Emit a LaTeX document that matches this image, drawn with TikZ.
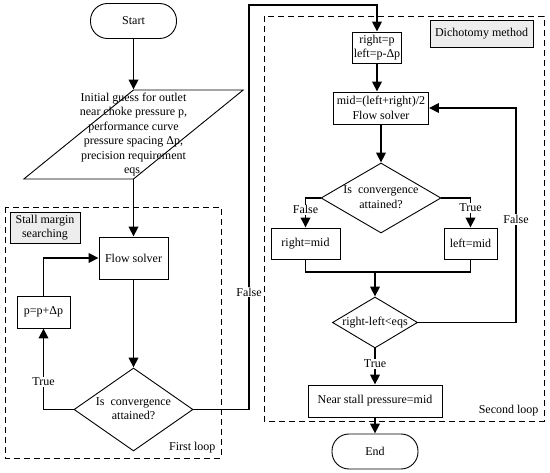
\documentclass[tikz,border=0pt]{standalone}
\usepackage{fontspec}
\setmainfont{Liberation Serif}
\usetikzlibrary{shapes.geometric,arrows.meta,positioning}
\newcommand{\dtext}[1]{\makebox[0pt]{\begin{tabular}{@{}c@{}}#1\end{tabular}}}

\begin{document}
\begin{tikzpicture}[
    x=1pt, y=-1pt,
    >={Triangle[length=10pt,width=9.5pt]},
    every node/.style={font=\fontsize{12}{14.5}\selectfont},
    process/.style={
      rectangle, draw, line width=0.9pt,
      inner sep=1pt, align=center
    },
    terminal/.style={
      process, rounded corners=17pt,
      minimum width=86, minimum height=35
    },
    inout/.style={
      trapezium, trapezium stretches=true,
      trapezium left angle=63.7, trapezium right angle=116.3,
      draw, line width=0.9pt, inner sep=0pt
    },
    decision/.style={diamond, draw, line width=0.9pt, inner sep=0pt},
    tagbox/.style={process, fill=black!7},
    loopframe/.style={draw, line width=0.8pt, dash pattern=on 6pt off 4pt},
    edgelabel/.style={fill=white, inner sep=1pt},
    conn/.style={line width=1.8pt},
  ]
  \useasboundingbox (0,0) rectangle (550,473);

  % First loop
  \node[terminal] (start) at (133.5,21) {Start};
  \node[inout, minimum width=220, minimum height=89] (guess) at (133.5,134.5)
    {\dtext{Initial guess for outlet\\near choke pressure p,\\performance curve\\pressure spacing Δp,\\precision requirement\\eqs.}};

  \draw[loopframe] (5,207) rectangle (221,458);
  \node[tagbox, minimum width=70, minimum height=31] (stalltag) at (45,227.5) {Stall margin\\searching};
  \node[process, minimum width=69, minimum height=42] (flow) at (133.5,258) {Flow solver};
  \node[process, minimum width=53, minimum height=32] (incr) at (43.5,312) {p=p+Δp};
  \node[decision, minimum width=119, minimum height=83] (conv1) at (133.5,409.5)
    {\dtext{Is\ \ convergence\\attained?}};
  \node[anchor=south east] (firsttag) at (219,457) {First loop};

  % Second loop
  \draw[loopframe] (264,16) rectangle (544,421);
  \node[tagbox, minimum width=103, minimum height=27] (dichotag) at (481.5,33.5) {Dichotomy method};
  \node[process, minimum width=45, minimum height=31] (bounds) at (377,47.5) {right=p\\left=p-Δp};
  \node[process, minimum width=95, minimum height=32] (mid) at (381,108) {mid=(left+right)/2\\Flow solver};
  \node[decision, minimum width=120, minimum height=70] (conv2) at (381,198)
    {\dtext{Is\ \ convergence\\attained?}};
  \node[process, minimum width=69, minimum height=31] (setright) at (305.5,243.5) {right=mid};
  \node[process, minimum width=53, minimum height=31] (setleft) at (470.5,243.5) {left=mid};
  \coordinate (merge) at (375,272);
  \node[decision, minimum width=85, minimum height=51] (check) at (375,322.5) {\dtext{right-left<eqs}};
  \node[process, minimum width=134, minimum height=32] (result) at (375,401) {Near stall pressure=mid};
  \node[anchor=south east] (secondtag) at (542,420) {Second loop};
  \node[terminal] (finish) at (375,451.5) {End};

  \coordinate (hop) at (249,5);
  \coordinate (retour) at (516,322.5);

  % Connectors
  \draw[conn,->] (start.south) -- (guess.north);
  \draw[conn,->] (guess.south) -- (flow.north);
  \draw[conn,->] (flow) -- (conv1);
  \draw[conn,->] (conv1.west) -| node[edgelabel, pos=0.67] {True} (incr.south);
  \draw[conn,->] (incr.north) |- (flow.west);
  \draw[conn,->] (conv1.east) -| node[edgelabel, pos=0.645] {False} (hop) -| (bounds.north);

  \draw[conn,->] (bounds.south) -- (bounds.south |- mid.north);
  \draw[conn,->] (mid) -- (conv2);
  \draw[conn,->] (conv2.west) -| node[edgelabel, pos=0.7] {False} (setright.north);
  \draw[conn,->] (conv2.east) -| node[edgelabel, pos=0.67] {True} (setleft.north);
  \draw[conn] (setright.south) |- (merge) -| (setleft.south);
  \draw[conn,->] (merge) -- (check.north);
  \draw[conn,->] (check.east) -- (retour) |- node[edgelabel, pos=0.24] {False} (mid.east);
  \draw[conn,->] (check) -- node[edgelabel, pos=0.43] {True} (result);
  \draw[conn,->] (result) -- (finish);

\end{tikzpicture}
\end{document}
